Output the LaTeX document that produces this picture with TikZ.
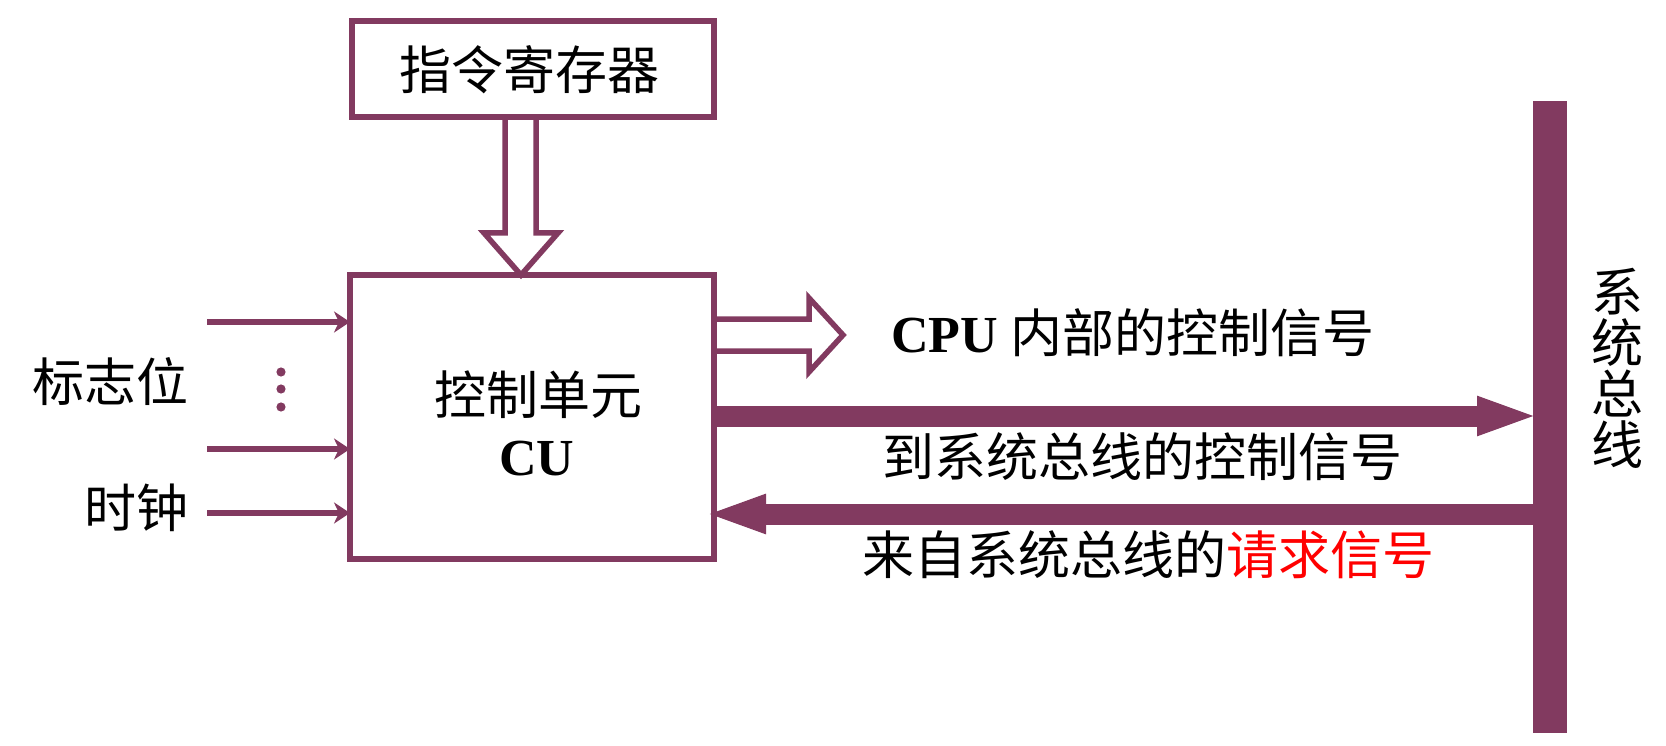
\documentclass[tikz,border=0pt]{standalone}
\usepackage{fontspec}
\setmainfont{Liberation Serif}
\newfontfamily\cjk{Noto Sans CJK SC}
\usetikzlibrary{arrows.meta,calc}
\definecolor{bus}{RGB}{130,58,96}
\begin{document}
\begin{tikzpicture}[x=1pt,y=-1pt,
  blockbox/.style={draw=bus,line width=5.5pt,inner sep=0pt,outer sep=0pt},
  lbl/.style={inner sep=0pt,font=\fontsize{52pt}{60pt}\selectfont\cjk},
  inarrow/.style={draw=bus,line width=5.5pt,-{Stealth[length=16pt,width=21pt,inset=5pt]}},
  fatarrow/.style={draw=bus,line width=21pt,-{Triangle[length=62pt,width=35pt]}},
  hollow/.style={draw=bus,line width=5.5pt,line join=miter}]
\useasboundingbox (0,0) rectangle (1666,746);

% blocks
\node[blockbox,minimum width=362pt,minimum height=96pt] (ir) at (533,69) {};
\node[lbl] (irt) at (529,70) {指令寄存器};
\node[blockbox,minimum width=364pt,minimum height=284pt] (cu) at (532,417) {};
\node[lbl] (cut1) at (538,395) {控制单元};
\node[inner sep=0pt,font=\fontsize{52pt}{60pt}\selectfont\bfseries] (cut2) at (537,459) {CU};

% system bus bar
\node[fill=bus,inner sep=0pt,outer sep=0pt,minimum width=34pt,minimum height=632pt] (bus) at (1550,417) {};
\node[lbl,align=center,font=\fontsize{52pt}{51pt}\selectfont\cjk] (bust) at (1617,368) {系\\统\\总\\线};

% instruction register -> control unit (hollow arrow)
\path[hollow] (ir.south -| 505,0) -- (505,233) -- (484,233) -- (cu.north -| 521,0)
  -- (558,233) -- (536,233) -- (ir.south -| 536,0);

% internal control signals (hollow arrow)
\path[hollow] (cu.east |- 0,319) -- (809,319) -- (809,298) -- (843,335)
  -- (809,372) -- (809,351) -- (cu.east |- 0,351);
\node[inner sep=0pt,font=\fontsize{52pt}{60pt}\selectfont] (cpu) at (1133,333)
  {\textbf{CPU} {\cjk 内部的控制信号}};

% inputs on the left
\coordinate (in1) at (207,322);
\coordinate (in2) at (207,449);
\coordinate (in3) at (207,513);
\draw[inarrow] (in1) -- (in1 -| cu.west);
\draw[inarrow] (in2) -- (in2 -| cu.west);
\draw[inarrow] (in3) -- (in3 -| cu.west);
\node[lbl] (flag) at (110,382) {标志位};
\node[lbl] (clk) at (136,508) {时钟};
\foreach \yy in {372,389,407} \fill[bus] (281,\yy) circle (4.6pt);

% control signals to and from the system bus
\coordinate (lv1) at (0,416);
\coordinate (lv2) at (0,514);
\draw[fatarrow,shorten >=-6pt] (cu.east |- lv1) -- (bus.west |- lv1);
\draw[fatarrow,shorten >=-10pt] (bus.west |- lv2) -- (cu.east |- lv2);
\node[lbl] (tobus) at (1142,457) {到系统总线的控制信号};
\node[lbl] (frombus) at (1148,555) {来自系统总线的{\color{red}请求信号}};
\end{tikzpicture}
\end{document}
